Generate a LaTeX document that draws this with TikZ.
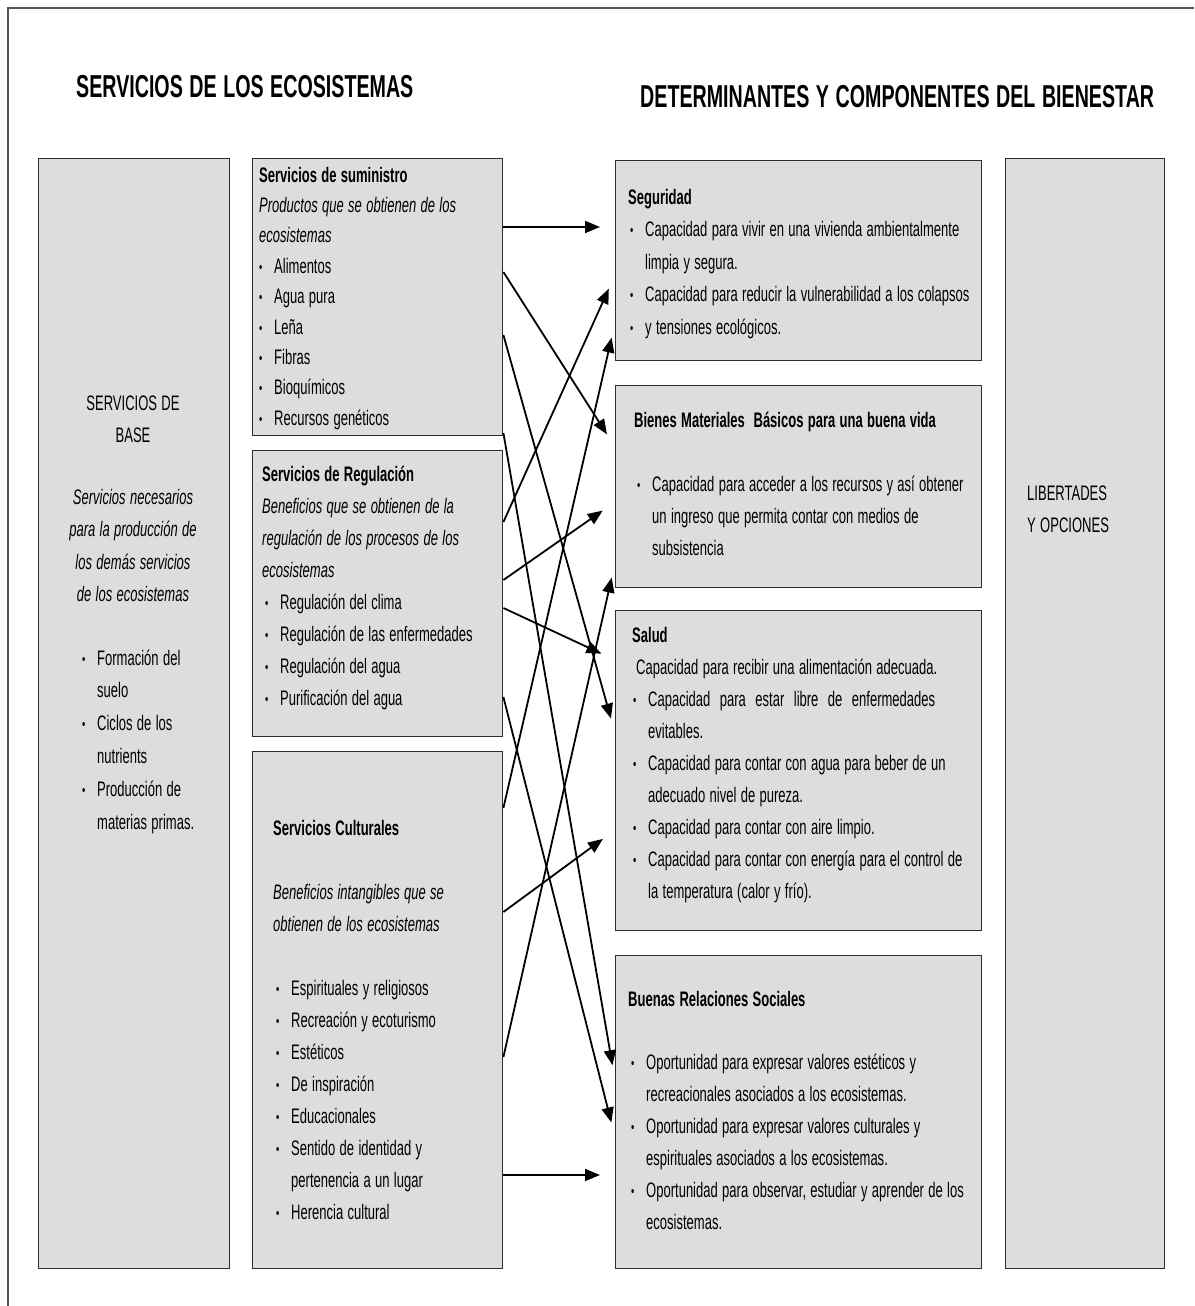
\documentclass[tikz,border=0pt]{standalone}
\usepackage{fontspec}
\setmainfont{Liberation Sans}[FakeStretch=0.62, WordSpace=1.2]
\usepackage{tikz}
\usetikzlibrary{
  arrows.meta,
  positioning,
  calc,
}
\definecolor{panelFill}{HTML}{DDDDDD}
\definecolor{panelLine}{HTML}{2E2E2E}
\definecolor{frameLine}{HTML}{555555}
\newcommand{\bul}{\makebox[15pt][l]{\raisebox{1pt}{\fontsize{15}{15}\selectfont\textbullet}}}
\newcommand{\ind}{\hspace*{15pt}}
\tikzset{
  panelBox/.style={
    rectangle, draw=panelLine, fill=panelFill, line width=1.4pt,
    anchor=north west, inner sep=0pt,
  },
  bodyText/.style 2 args={
    anchor=base west, inner sep=0pt, align=flush left, text width=#1,
    font=\fontsize{21}{#2}\selectfont,
  },
  titleText/.style={
    anchor=base west, inner sep=0pt,
    font=\fontsize{31.7}{36}\selectfont\bfseries,
  },
  arrowLink/.style={
    -{Triangle[length=15pt,width=12pt]}, line width=1.8pt, draw=black,
    shorten >=15pt,
  },
}

\begin{document}
\begin{tikzpicture}[x=1pt,y=-1pt]

\useasboundingbox (0,0) rectangle (1194,1306);
\draw[frameLine, line width=1.5pt] (8,1306) -- (8,8) -- (1194,8);

\node[titleText] (titleA) at (76,97) {SERVICIOS DE LOS ECOSISTEMAS};
\node[titleText] (titleB) at (640,107) {DETERMINANTES Y COMPONENTES DEL BIENESTAR};

\node[panelBox, minimum width=191pt, minimum height=1110pt] (base) at (38,158) {};
\node[panelBox, minimum width=250pt, minimum height=277pt] (sumin) at (252,158) {};
\node[panelBox, minimum width=250pt, minimum height=286pt] (regul) at (252,450) {};
\node[panelBox, minimum width=250pt, minimum height=517pt] (cultu) at (252,751) {};
\node[panelBox, minimum width=366pt, minimum height=200pt] (segur) at (615,160) {};
\node[panelBox, minimum width=366pt, minimum height=202pt] (biene) at (615,385) {};
\node[panelBox, minimum width=366pt, minimum height=320pt] (salud) at (615,610) {};
\node[panelBox, minimum width=366pt, minimum height=313pt] (socia) at (615,955) {};
\node[panelBox, minimum width=159pt, minimum height=1110pt] (liber) at (1005,158) {};

\node[bodyText={191pt}{32}, align=flush center, anchor=base] (baseHead) at (133,410) {%
  SERVICIOS DE\\BASE};
\node[bodyText={191pt}{32.5}, align=flush center, anchor=base] (baseNote) at (133,504) {%
  \itshape Servicios necesarios\\
  \itshape para la producción de\\
  \itshape los demás servicios\\
  \itshape de los ecosistemas};
\node[bodyText={140pt}{32.8}] (baseList) at (82,665) {%
  \bul Formación del\\
  \ind suelo\\
  \bul Ciclos de los\\
  \ind nutrients\\
  \bul Producción de\\
  \ind materias primas.};

\node[bodyText={400pt}{30.4}] (suminText) at (259,182) {%
  \textbf{Servicios de suministro}\\
  \textit{Productos que se obtienen de los}\\
  \textit{ecosistemas}\\
  \bul Alimentos\\
  \bul Agua pura\\
  \bul Leña\\
  \bul Fibras\\
  \bul Bioquímicos\\
  \bul Recursos genéticos};

\node[bodyText={400pt}{32}] (regulText) at (262,481) {%
  \textbf{Servicios de Regulación}\\
  \textit{Beneficios que se obtienen de la}\\
  \textit{regulación de los procesos de los}\\
  \textit{ecosistemas}\\
  \hspace*{3pt}\bul Regulación del clima\\
  \hspace*{3pt}\bul Regulación de las enfermedades\\
  \hspace*{3pt}\bul Regulación del agua\\
  \hspace*{3pt}\bul Purificación del agua};

\node[bodyText={400pt}{32}] (cultuText) at (273,835) {%
  \textbf{Servicios Culturales}\\[32pt]
  \textit{Beneficios intangibles que se}\\
  \textit{obtienen de los ecosistemas}\\[32pt]
  \hspace*{3pt}\bul Espirituales y religiosos\\
  \hspace*{3pt}\bul Recreación y ecoturismo\\
  \hspace*{3pt}\bul Estéticos\\
  \hspace*{3pt}\bul De inspiración\\
  \hspace*{3pt}\bul Educacionales\\
  \hspace*{3pt}\bul Sentido de identidad y\\
  \hspace*{3pt}\ind pertenencia a un lugar\\
  \hspace*{3pt}\bul Herencia cultural};

\node[bodyText={500pt}{32.5}] (segurText) at (628,204) {%
  \textbf{Seguridad}\\
  \hspace*{2pt}\bul Capacidad para vivir en una vivienda ambientalmente\\
  \hspace*{2pt}\ind limpia y segura.\\
  \hspace*{2pt}\bul Capacidad para reducir la vulnerabilidad a los colapsos\\
  \hspace*{2pt}\bul y tensiones ecológicos.};

\node[bodyText={500pt}{32}] (bieneText) at (634,427) {%
  \textbf{Bienes Materiales\ \ Básicos para una buena vida}\\[32pt]
  \hspace*{3pt}\bul Capacidad para acceder a los recursos y así obtener\\
  \hspace*{3pt}\ind un ingreso que permita contar con medios de\\
  \hspace*{3pt}\ind subsistencia};

\node[bodyText={500pt}{32.1}] (saludText) at (632,642) {%
  \textbf{Salud}\\
  \hspace*{4pt}Capacidad para recibir una alimentación adecuada.\\
  \hspace*{1pt}\bul \makebox[287pt][s]{Capacidad para estar libre de enfermedades}\\
  \hspace*{1pt}\ind evitables.\\
  \hspace*{1pt}\bul Capacidad para contar con agua para beber de un\\
  \hspace*{1pt}\ind adecuado nivel de pureza.\\
  \hspace*{1pt}\bul Capacidad para contar con aire limpio.\\
  \hspace*{1pt}\bul Capacidad para contar con energía para el control de\\
  \hspace*{1pt}\ind la temperatura (calor y frío).};

\node[bodyText={500pt}{31.9}] (sociaText) at (628,1006) {%
  \textbf{Buenas Relaciones Sociales}\\[31.9pt]
  \hspace*{3pt}\bul Oportunidad para expresar valores estéticos y\\
  \hspace*{3pt}\ind recreacionales asociados a los ecosistemas.\\
  \hspace*{3pt}\bul Oportunidad para expresar valores culturales y\\
  \hspace*{3pt}\ind espirituales asociados a los ecosistemas.\\
  \hspace*{3pt}\bul Oportunidad para observar, estudiar y aprender de los\\
  \hspace*{3pt}\ind ecosistemas.};

\node[bodyText={130pt}{32}] (liberText) at (1027,500) {LIBERTADES\\Y OPCIONES};

\draw[arrowLink] ([yshift=-69pt]sumin.north east) -- ([yshift=-67pt]segur.north west);
\draw[arrowLink] ([yshift=-114pt]sumin.north east) -- ([yshift=-62pt]biene.north west);
\draw[arrowLink] ([yshift=-177pt]sumin.north east) -- ([yshift=-123pt]salud.north west);
\draw[arrowLink] ([yshift=-275pt]sumin.north east) -- ([yshift=-125pt]socia.north west);
\draw[arrowLink] ([yshift=-72pt]regul.north east) -- ([yshift=-115pt]segur.north west);
\draw[arrowLink] ([yshift=-130pt]regul.north east) -- ([yshift=-117pt]biene.north west);
\draw[arrowLink] ([yshift=-158pt]regul.north east) -- ([yshift=-50pt]salud.north west);
\draw[arrowLink] ([yshift=-247pt]regul.north east) -- ([yshift=-182pt]socia.north west);
\draw[arrowLink] ([yshift=-57pt]cultu.north east) -- ([yshift=-163pt]segur.north west);
\draw[arrowLink] ([yshift=-161pt]cultu.north east) -- ([yshift=-220pt]salud.north west);
\draw[arrowLink] ([yshift=-306pt]cultu.north east) -- ([yshift=-178pt]biene.north west);
\draw[arrowLink] ([yshift=-424pt]cultu.north east) -- ([yshift=-220pt]socia.north west);

\end{tikzpicture}
\end{document}
